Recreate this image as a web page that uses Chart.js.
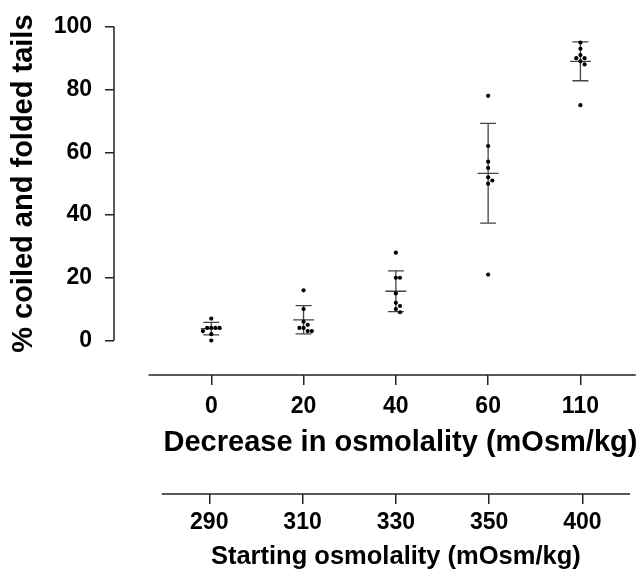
<!DOCTYPE html>
<html>
<head>
<meta charset="utf-8">
<script src="https://cdn.jsdelivr.net/npm/chart.js@4.4.0/dist/chart.umd.min.js"></script>
<style>
  html, body { margin: 0; padding: 0; background: #fff; }
  #wrap { width: 641px; height: 572px; }
</style>
</head>
<body>
<div id="wrap"><canvas id="tails"></canvas></div>
<script>
// coiled / folded tails vs osmolality drop
var decreaseLabels = ['0', '20', '40', '60', '110'];
var startingLabels = ['290', '310', '330', '350', '400'];
var yTicks = [0, 20, 40, 60, 80, 100];

// individual replicates (%), one array per group
var pts0 = [7, 4, 4, 4, 4, 3, 2, 0];
var pts20 = [16, 10, 6, 5, 4, 4, 3, 3];
var pts40 = [28, 20, 20, 15, 12, 11, 10, 9];
var pts60 = [78, 62, 57, 55, 52, 51, 50, 21];
var pts110 = [95, 93, 91, 90, 90, 89, 88, 75];

// mean and SD bars as drawn
var means = [3.8, 6.6, 15.7, 53.3, 89.0];
var sds = [2.0, 4.5, 6.5, 15.9, 6.2];

var yTitle = '% coiled and folded tails';
var xTitle = 'Decrease in osmolality (mOsm/kg)';
var x2Title = 'Starting osmolality (mOsm/kg)';

var groups = [pts0, pts20, pts40, pts60, pts110];

// spread overlapping dots sideways (scatter dot plot)
function swarm(vals, i) {
	var placed = [];
	vals.forEach(function (v) {
		var k = 0, off = 0;
		while (true) {
			off = (k % 2 ? 1 : -1) * Math.ceil(k / 2) * 0.045;
			var hit = placed.some(function (p) {
				return Math.abs(p.y - v) < 1.5 && Math.abs(p.x - (i + off)) < 0.04;
			});
			if (!hit) break;
			k++;
		}
		placed.push({ x: i + off, y: v });
	});
	return placed;
}

var points = [];
groups.forEach(function (g, i) { points = points.concat(swarm(g, i)); });

var FONT = "'Liberation Sans', Arial, sans-serif";
Chart.defaults.font.family = FONT;
Chart.defaults.color = '#000';

var axisColor = '#222';

var prismAxes = {
	id: 'prismAxes',
	beforeDatasetsDraw: function (chart) {
		var c = chart.ctx, x = chart.scales.x, y = chart.scales.y;
		c.save();
		c.strokeStyle = '#444';
		c.lineWidth = 1.3;
		c.beginPath();
		means.forEach(function (m, i) {
			var px = x.getPixelForValue(i);
			var top = y.getPixelForValue(m + sds[i]);
			var bot = y.getPixelForValue(m - sds[i]);
			var py = y.getPixelForValue(m);
			c.moveTo(px, top); c.lineTo(px, bot);
			c.moveTo(px - 8, top); c.lineTo(px + 8, top);
			c.moveTo(px - 8, bot); c.lineTo(px + 8, bot);
			c.moveTo(px - 10.5, py); c.lineTo(px + 10.5, py);
		});
		c.stroke();
		c.restore();
	},
	afterDraw: function (chart) {
		var c = chart.ctx, x = chart.scales.x, x2 = chart.scales.x2, y = chart.scales.y;
		c.save();
		c.strokeStyle = axisColor;
		c.lineWidth = 1.5;
		c.beginPath();
		c.moveTo(y.right, y.getPixelForValue(0));
		c.lineTo(y.right, y.getPixelForValue(100));
		c.moveTo(x.getPixelForValue(-0.68), x.top);
		c.lineTo(x.getPixelForValue(4.6), x.top);
		c.moveTo(x2.getPixelForValue(-0.51), x2.top);
		c.lineTo(x2.getPixelForValue(4.51), x2.top);
		c.stroke();

		// axis titles, centred on the data span rather than the scale box
		c.fillStyle = '#000';
		c.textAlign = 'center';
		c.textBaseline = 'middle';
		c.font = 'bold 29px ' + FONT;
		c.fillText(xTitle, x.getPixelForValue(2.05), x.top + 68);
		c.font = 'bold 25.5px ' + FONT;
		c.fillText(x2Title, x2.getPixelForValue(2), x2.top + 63);
		c.font = 'bold 29px ' + FONT;
		c.translate(24, y.getPixelForValue(50));
		c.rotate(-Math.PI / 2);
		c.fillText(yTitle, 0, 0);
		c.restore();
	}
};

function fixTicks(list) {
	return function (s) {
		s.ticks = list.map(function (v) { return { value: v }; });
	};
}

var ctx = document.getElementById('tails').getContext('2d');
var chart = new Chart(ctx, {
	type: 'scatter',
	data: {
		datasets: [{
			data: points,
			pointRadius: 2.1,
			pointBackgroundColor: '#000',
			pointBorderWidth: 0,
			xAxisID: 'x',
			yAxisID: 'y'
		}]
	},
	options: {
		responsive: true,
		maintainAspectRatio: false,
		animation: false,
		layout: { padding: { top: 21, right: 0, bottom: 0, left: 0 } },
		plugins: { legend: { display: false }, tooltip: { enabled: false } },
		scales: {
			x: {
				type: 'linear',
				position: 'bottom',
				bounds: 'data',
				min: -1.054,
				max: 4.613,
				afterBuildTicks: fixTicks([0, 1, 2, 3, 4]),
				afterFit: function (s) { s.height = 119; },
				ticks: {
					callback: function (v) { return decreaseLabels[v]; },
					font: { size: 23, weight: 'bold' },
					color: '#000',
					padding: 8,
					maxRotation: 0,
					autoSkip: false
				},
				grid: { drawOnChartArea: false, tickLength: 10, color: axisColor, lineWidth: 1.5 },
				border: { display: false }
			},
			x2: {
				type: 'linear',
				position: 'bottom',
				bounds: 'data',
				min: -1.021,
				max: 4.585,
				afterBuildTicks: fixTicks([0, 1, 2, 3, 4]),
				afterFit: function (s) { s.height = 78; },
				ticks: {
					callback: function (v) { return startingLabels[v]; },
					font: { size: 23, weight: 'bold' },
					color: '#000',
					padding: 5,
					maxRotation: 0,
					autoSkip: false
				},
				grid: { drawOnChartArea: false, tickLength: 10, color: axisColor, lineWidth: 1.5 },
				border: { display: false }
			},
			y: {
				type: 'linear',
				bounds: 'data',
				min: -11,
				max: 100,
				afterBuildTicks: fixTicks(yTicks),
				afterFit: function (s) { s.width = 114; },
				ticks: {
					font: { size: 23, weight: 'bold' },
					color: '#000',
					padding: 13
				},
				grid: { drawOnChartArea: false, tickLength: 9, color: axisColor, lineWidth: 1.5 },
				border: { display: false }
			}
		}
	},
	plugins: [prismAxes]
});
</script>
</body>
</html>
